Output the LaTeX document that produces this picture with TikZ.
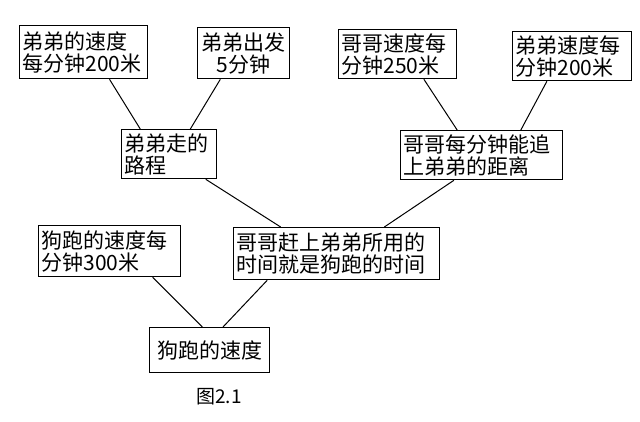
\documentclass[tikz,border=0pt]{standalone}
\usepackage{fontspec}
\usepackage{tikz}
\usetikzlibrary{calc}
\newfontfamily\cjk{Noto Sans CJK SC}
\tikzset{
  txtbox/.style={draw=black,line width=1.3pt,fill=white,anchor=north west,
                 align=left,inner xsep=3pt,inner ysep=2pt,
                 font=\cjk\fontsize{21}{22}\selectfont},
  midbox/.style={txtbox,align=center},
  link/.style={draw=black,line width=1pt},
  caption/.style={font=\cjk\fontsize{19}{22}\selectfont,inner sep=0pt}
}
\begin{document}
\begin{tikzpicture}[x=1pt,y=-1pt]
    \useasboundingbox[fill=white] (0,0) rectangle (640,421);
    % top row
    \node[txtbox,text width=122pt,minimum height=53pt] (bro1) at (19,25) {弟弟的速度\\每分钟200米};
    \node[midbox,text width=86pt,minimum height=51pt] (start) at (197,27) {弟弟出发\\5分钟};
    \node[txtbox,text width=112pt,minimum height=49pt] (big) at (338,29) {哥哥速度每\\分钟250米};
    \node[txtbox,text width=113pt,minimum height=49pt] (bro2) at (512,31) {弟弟速度每\\分钟200米};
    % middle row
    \node[txtbox,text width=89pt,minimum height=49pt] (road) at (121,129) {弟弟走的\\路程};
    \node[txtbox,text width=156pt,minimum height=49pt] (gain) at (400,130) {哥哥每分钟能追\\上弟弟的距离};
    % lower rows
    \node[txtbox,text width=136pt,minimum height=51pt] (dog) at (38,225) {狗跑的速度每\\分钟300米};
    \node[txtbox,text width=200pt,minimum height=52pt] (time) at (233,227) {哥哥赶上弟弟所用的\\时间就是狗跑的时间};
    \node[midbox,text width=114pt,minimum height=45pt] (goal) at (149,327) {狗跑的速度};
    \node[caption] (fig) at (219,397) {图2.1};

    \draw[link] ($(bro1.south west)!.70!(bro1.south east)$) -- ($(road.north west)!.20!(road.north east)$);
    \draw[link] ($(start.south west)!.25!(start.south east)$) -- ($(road.north west)!.72!(road.north east)$);
    \draw[link] ($(big.south west)!.72!(big.south east)$) -- ($(gain.north west)!.35!(gain.north east)$);
    \draw[link] ($(bro2.south west)!.29!(bro2.south east)$) -- ($(gain.north west)!.74!(gain.north east)$);
    \draw[link] ($(road.south west)!.88!(road.south east)$) -- ($(time.north west)!.23!(time.north east)$);
    \draw[link] ($(gain.south west)!.33!(gain.south east)$) -- ($(time.north west)!.73!(time.north east)$);
    \draw[link] ($(dog.south west)!.80!(dog.south east)$) -- ($(goal.north west)!.44!(goal.north east)$);
    \draw[link] ($(time.south west)!.165!(time.south east)$) -- ($(goal.north west)!.61!(goal.north east)$);
  \end{tikzpicture}
\end{document}
